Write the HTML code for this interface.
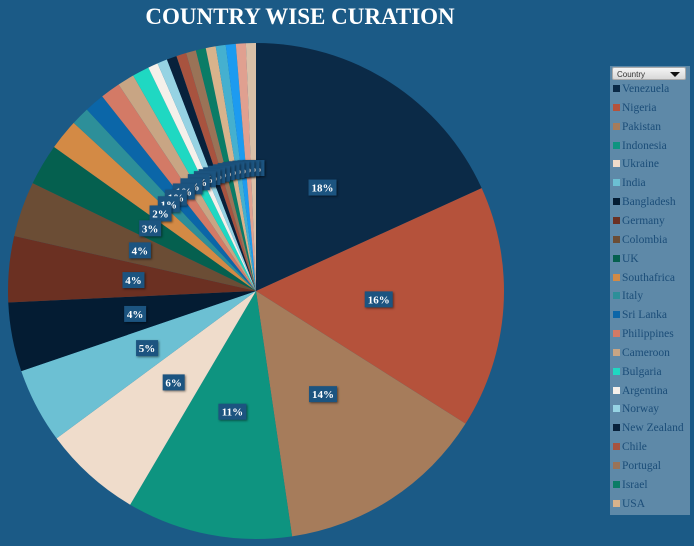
<!DOCTYPE html>
<html><head><meta charset="utf-8">
<style>
body{margin:0;background:#1b5a86;width:694px;height:546px;overflow:hidden;font-family:"Liberation Serif",serif;}
#title{position:absolute;left:0;width:600px;top:4px;text-align:center;color:#fff;font-weight:bold;font-size:23px;}
#legend{position:absolute;left:610px;top:66px;width:80px;height:449px;background:#5e89a8;}
#hdr{position:absolute;left:2px;top:1px;width:74px;height:13px;background:linear-gradient(#f4f4f4,#d8d8d8);border:1px solid #aaa;border-radius:2px;font-family:"Liberation Sans",sans-serif;font-size:8px;color:#333;line-height:13px;padding-left:4px;box-sizing:border-box;}
#hdr:after{content:"";position:absolute;right:5px;top:4px;border-left:5px solid transparent;border-right:5px solid transparent;border-top:5px solid #111;}
.le{position:absolute;left:3px;font-size:11.5px;color:#1b4d78;white-space:nowrap;}
.le i{display:inline-block;width:7px;height:7px;margin-right:2px;}
</style></head><body>
<div id="title">COUNTRY WISE CURATION</div>
<svg id="pie" width="694" height="546" style="position:absolute;left:0;top:0"></svg>
<div id="legend"><div id="hdr">Country</div></div>
<script>
const countries=["Venezuela","Nigeria","Pakistan","Indonesia","Ukraine","India","Bangladesh","Germany","Colombia","UK","Southafrica","Italy","Sri Lanka","Philippines","Cameroon","Bulgaria","Argentina","Norway","New Zealand","Chile","Portugal","Israel","USA","Other1","Other2","Other3","Other4"];
const values=[18.2,15.8,13.7,10.8,6.4,4.9,4.5,4.3,3.6,2.7,2.0,1.2,1.3,1.3,1.1,1.1,0.65,0.65,0.65,0.65,0.65,0.65,0.65,0.65,0.65,0.65,0.65];
const colors=["#0b2a47","#b5523b","#a67c5b","#0e9480","#efdccb","#6cc0d3","#041c33","#6b3022","#6b4d35","#05604f","#d38a45","#2d8f99","#0b66a8","#d37a66","#c8a584","#1fd8c2","#f5f0ea","#96d3e3","#08213b","#a8533f","#9a7357","#0a7c66","#d8b38c","#45b0cf","#1d9bf0","#e0a090","#d9c0a8"];
const legendCount=23;
const cx=256,cy=291,R=248;
const svg=document.getElementById('pie');
const NS="http://www.w3.org/2000/svg";
const total=values.reduce((a,b)=>a+b,0);
function pt(a,r){return [cx+r*Math.sin(a),cy-r*Math.cos(a)];}
let acc=0;const mids=[];
values.forEach((v,i)=>{
  const a0=acc/total*2*Math.PI;acc+=v;const a1=acc/total*2*Math.PI;
  const p0=pt(a0,R),p1=pt(a1,R);
  const p=document.createElementNS(NS,'path');
  p.setAttribute('d',`M${cx},${cy}L${p0[0]},${p0[1]}A${R},${R} 0 ${a1-a0>Math.PI?1:0} 1 ${p1[0]},${p1[1]}Z`);
  p.setAttribute('fill',colors[i]);
  
  
  svg.appendChild(p);
  mids.push((a0+a1)/2);
});
for(let i=values.length-1;i>=0;i--){
  const m=pt(mids[i],123);
  const txt=Math.round(values[i]/total*100)+'%';
  const w=txt.length>2?28:22;
  const g=document.createElementNS(NS,'g');
  
  
  const r=document.createElementNS(NS,'rect');
  r.setAttribute('x',m[0]-w/2);r.setAttribute('y',m[1]-8);r.setAttribute('width',w);r.setAttribute('height',16);
  r.setAttribute('fill','#1c5480');
  r.setAttribute('style','filter:drop-shadow(1px 1px 1px rgba(0,0,0,.5))');
  const t=document.createElementNS(NS,'text');
  t.setAttribute('x',m[0]);t.setAttribute('y',m[1]+4);t.setAttribute('text-anchor','middle');
  t.setAttribute('fill','#fff');t.setAttribute('font-size','11');t.setAttribute('font-weight','bold');
  t.setAttribute('font-family','Liberation Serif, serif');
  t.textContent=txt;
  g.appendChild(r);g.appendChild(t);svg.appendChild(g);
}
const lg=document.getElementById('legend');
for(let i=0;i<legendCount;i++){
  const d=document.createElement('div');
  d.className='le';
  d.style.top=(17+i*18.85)+'px';
  
  
  d.innerHTML=`<i style="background:${colors[i]}"></i>${countries[i]}`;
  lg.appendChild(d);
}
</script>
</body></html>
